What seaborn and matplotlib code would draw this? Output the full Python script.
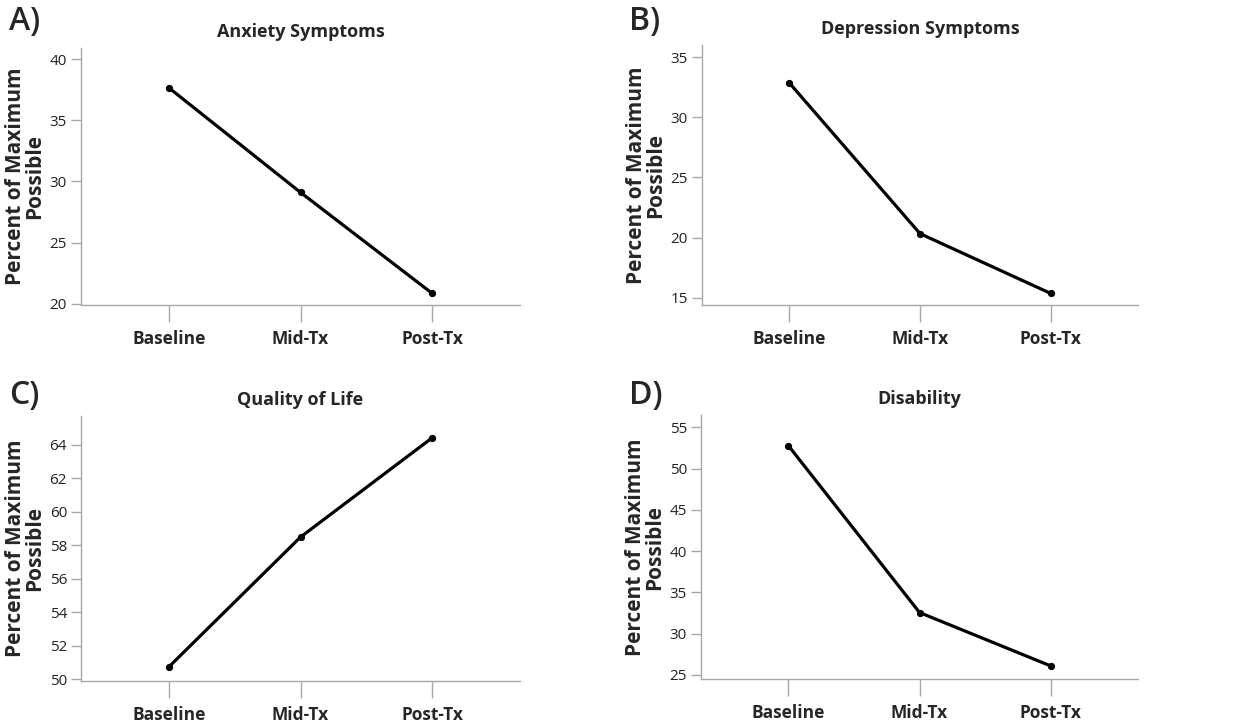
import pandas as pd
import seaborn as sns
import matplotlib.pyplot as plt

timepoints = ["Baseline", "Mid-Tx", "Post-Tx"]
anxiety = [37.65, 29.1, 20.85]
depression = [32.86, 20.33, 15.36]
quality_of_life = [50.74, 58.48, 64.4]
disability = [52.78, 32.56, 26.09]

titles = ["Anxiety Symptoms", "Depression Symptoms", "Quality of Life", "Disability"]
letters = ["A)", "B)", "C)", "D)"]
series = [anxiety, depression, quality_of_life, disability]
ylims = [(19.9, 40.9), (14.4, 36.0), (49.9, 65.7), (24.5, 56.5)]
yticks = [range(20, 41, 5), range(15, 36, 5), range(50, 65, 2), range(25, 56, 5)]

sns.set_style("white")
plt.rcParams['font.family'] = ['Open Sans', 'DejaVu Sans']

W, H = 1246, 723
fig = plt.figure(figsize=(W / 100, H / 100), dpi=100)

# axes boxes in pixels: left, top, right, bottom
boxes = [(81, 48, 520, 305), (702, 45, 1138, 305),
         (81, 416, 520, 681), (701, 415, 1138, 679)]
letter_pos = [(9, 5), (629, 5), (9, 379), (629, 379)]

grey = "#a8a8a8"
for i in range(4):
    l, t, r, b = boxes[i]
    ax = fig.add_axes([l / W, 1 - b / H, (r - l) / W, (b - t) / H])
    df = pd.DataFrame({"time": timepoints, "pct": series[i]})
    sns.pointplot(data=df, x="time", y="pct", color="black", errorbar=None,
                  markersize=3.5, linewidth=2.3, ax=ax)
    ax.set_xlim(-0.667, 2.667)
    ax.set_ylim(*ylims[i])
    ax.set_yticks(list(yticks[i]))
    sns.despine(ax=ax)
    for s in ["left", "bottom"]:
        ax.spines[s].set_color(grey)
        ax.spines[s].set_linewidth(1.0)
    ax.tick_params(axis="y", which="major", left=True, length=7, width=1,
                   color=grey, labelsize=11, pad=3, labelcolor="#222222")
    ax.tick_params(axis="x", which="major", bottom=True, length=12, width=1,
                   color=grey, labelsize=12.5, pad=6)
    for lab in ax.get_xticklabels():
        lab.set_fontweight("bold")
    ax.set_xlabel("")
    ax.set_ylabel("Percent of Maximum\nPossible", fontsize=15,
                  fontweight="bold", linespacing=0.9, labelpad=3)
    ax.set_title(titles[i], fontsize=13, fontweight="bold", pad=8)
    fig.text(letter_pos[i][0] / W, 1 - letter_pos[i][1] / H, letters[i],
             fontsize=23, fontweight="semibold", va="top", ha="left")

plt.savefig("out.png", dpi=100)
